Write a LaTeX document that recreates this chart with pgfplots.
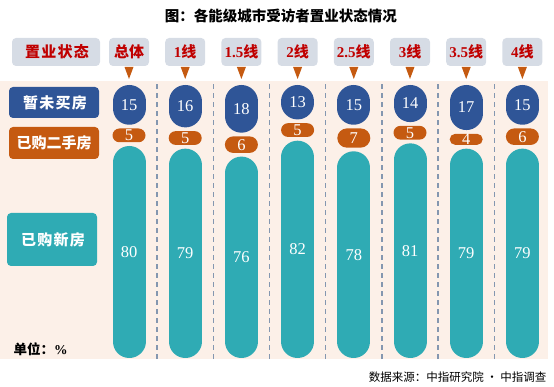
\documentclass[border=0pt]{standalone}
\usepackage{pgfplots}
\usepackage{pgfplotstable}
\pgfplotsset{compat=1.18}
\usetikzlibrary{shapes.misc}
\usepackage{fontspec}
\setmainfont{Liberation Serif}
\newfontfamily\cjk{Noto Sans CJK SC}
\newfontfamily\cjks{Noto Sans CJK SC}[LetterSpace=8]
\definecolor{bc}{HTML}{2F5597}
\definecolor{oc}{HTML}{C55A11}
\definecolor{tc}{HTML}{2FABB4}
\definecolor{hdr}{HTML}{D6DCE5}
\definecolor{bgc}{HTML}{FCF0E8}
\definecolor{redc}{HTML}{C00000}
\definecolor{dashc}{HTML}{8497B0}
\newcommand{\fs}[1]{\fontsize{#1bp}{#1bp}\selectfont}
\newcommand{\hd}[1]{{\bfseries #1}{\cjk\bfseries 线}}

\pgfplotstableread{
x new second none
0 80 5 15
1 79 5 16
2 76 6 18
3 82 5 13
4 78 7 15
5 81 5 14
6 79 4 17
7 79 6 15
}\datatable

\begin{document}
\begin{tikzpicture}
\path (0,0) rectangle (554bp,387bp);
\begin{axis}[
  at={(0bp,28bp)}, anchor=south west,
  scale only axis, width=548bp, height=278bp,
  xmin=-2.2954, xmax=7.4555, ymin=-0.3774, ymax=104.528,
  axis line style={draw=none}, xtick=\empty, ytick=\empty,
  axis background/.style={fill=bgc},
  clip=false,
  nlab/.style={draw=none, point meta=explicit,
    nodes near coords={\fs{16.5}\pgfmathprintnumber[assume math mode=true]{\pgfplotspointmeta}},
    nodes near coords style={anchor=center, text=white}},
]
\pgfplotsinvokeforeach{0.5,1.5,2.5,3.5,4.5,5.5,6.5}{
  \draw[dashc, line width=1.5bp, dash pattern=on 5bp off 4bp] (axis cs:#1,-0.3774) -- (axis cs:#1,103.8);
}
% teal (new)
\addplot[tc, line width=33bp, line cap=round, quiver={u=0, v=\thisrow{new}-12.4528}]
  table[x=x, y expr=6.2264] {\datatable};
% blue (none)
\addplot[bc, line width=33bp, line cap=round, quiver={u=0, v=\thisrow{none}-12.4528}]
  table[x=x, y expr=\thisrow{new}+\thisrow{second}+3.0188+6.2264] {\datatable};
% orange (second hand)
\addplot[nlab,
  visualization depends on={2.75*\thisrow{second} \as \oh},
  every node near coord/.append style={shape=rounded rectangle, fill=oc, minimum width=33bp, minimum height=\oh bp, inner sep=0pt}]
  table[x=x, y expr=\thisrow{new}+1.5094+0.5*\thisrow{second}, meta=second] {\datatable};
% labels
\addplot[nlab] table[x=x, y expr=0.5*\thisrow{new}, meta=new] {\datatable};
\addplot[nlab] table[x=x, y expr=\thisrow{new}+\thisrow{second}+3.0188+0.5*\thisrow{none}, meta=none] {\datatable};
\end{axis}
\begin{scope}[x=1bp, y=-1bp, yshift=387bp]
\node[font=\fs{14.5}] at (281,16) {\cjk\bfseries 图：各能级城市受访者置业状态情况};
\fill[hdr, rounded corners=4bp] (12,38) rectangle (100,66);
\node[text=redc, font=\fs{15}] at (57,52) {\cjks\bfseries 置业状态};
\foreach \cx/\lab in {129/{\cjk\bfseries 总体}, 185.2/{\hd{1}}, 241.4/{\hd{1.5}}, 297.6/{\hd{2}}, 353.8/{\hd{2.5}}, 410/{\hd{3}}, 466.2/{\hd{3.5}}, 522.4/{\hd{4}}}{
  \fill[hdr, rounded corners=4bp] (\cx-20,38) rectangle (\cx+20,66);
  \node[text=redc, font=\fs{15}] at (\cx,52) {\lab};
  \fill[oc] (\cx-4.5,67) -- (\cx+4.5,67) -- (\cx,79) -- cycle;
}
\fill[bc, rounded corners=4bp] (9,87) rectangle (99,118);
\node[text=white, font=\fs{15}] at (55,102.5) {\cjks\bfseries 暂未买房};
\fill[oc, rounded corners=4bp] (9,127) rectangle (99,159);
\node[text=white, font=\fs{15}] at (54,143) {\cjk\bfseries 已购二手房};
\fill[tc, rounded corners=4bp] (7,213) rectangle (97,266);
\node[text=white, font=\fs{15}] at (53,239.5) {\cjks\bfseries 已购新房};
\node[anchor=west, font=\fs{13.5}] at (10,349) {\cjk\bfseries 单位：{\rmfamily\bfseries\%}};
\node[anchor=east, font=\fs{11.5}] at (550,377) {\cjk 数据来源：中指研究院 · 中指调查};
\end{scope}
\end{tikzpicture}
\end{document}
